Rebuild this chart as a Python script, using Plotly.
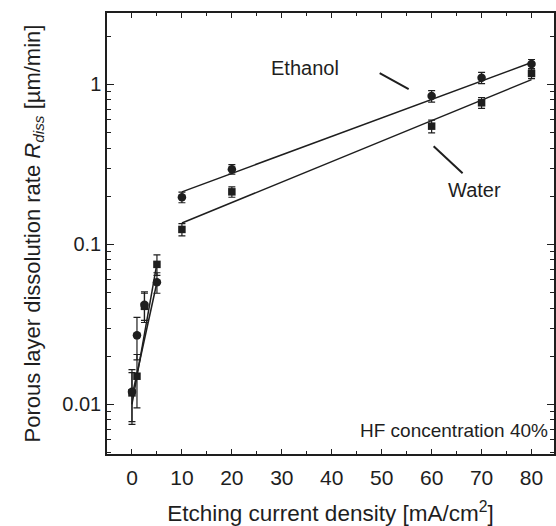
import plotly.graph_objects as go

# ---- data ----
current = [0, 1, 2.5, 5, 10, 20, 60, 70, 80]
ethanol_rate = [0.0120, 0.027, 0.042, 0.058, 0.197, 0.295, 0.845, 1.10, 1.34]
ethanol_err = [0.0045, 0.008, 0.0085, 0.0085, 0.015, 0.020, 0.070, 0.090, 0.090]
water_rate = [0.0118, 0.0150, 0.041, 0.075, 0.124, 0.213, 0.548, 0.767, 1.17]
water_err = [0.0040, 0.0055, 0.0085, 0.011, 0.011, 0.016, 0.050, 0.060, 0.085]

# fit lines
eth_fit_low_x = [0, 5]
eth_fit_low_y = [0.0112, 0.058]
wat_fit_low_x = [0, 5]
wat_fit_low_y = [0.0100, 0.076]
eth_fit_high_x = [10, 80]
eth_fit_high_y = [0.213, 1.37]
wat_fit_high_x = [10, 80]
wat_fit_high_y = [0.136, 1.07]

y_tickvals = [0.01, 0.1, 1]
y_ticktext = ["0.01", "0.1", "1"]
x_tickvals = [0, 10, 20, 30, 40, 50, 60, 70, 80]

INK = "#1e1e1e"
FONT = "Liberation Sans, Arial, sans-serif"

fig = go.Figure()

for fx, fy in [(eth_fit_low_x, eth_fit_low_y), (wat_fit_low_x, wat_fit_low_y),
               (eth_fit_high_x, eth_fit_high_y), (wat_fit_high_x, wat_fit_high_y)]:
    fig.add_trace(go.Scatter(x=fx, y=fy, mode="lines",
                             line=dict(color=INK, width=1.5), showlegend=False,
                             hoverinfo="skip"))

fig.add_trace(go.Scatter(
    x=current, y=water_rate, mode="markers", name="Water",
    marker=dict(symbol="square", size=7.5, color=INK),
    error_y=dict(type="data", array=water_err, color=INK, thickness=1.2, width=3.5),
    showlegend=False))
fig.add_trace(go.Scatter(
    x=current, y=ethanol_rate, mode="markers", name="Ethanol",
    marker=dict(symbol="circle", size=8.5, color=INK),
    error_y=dict(type="data", array=ethanol_err, color=INK, thickness=1.2, width=3.5),
    showlegend=False))

# annotation leader lines
fig.add_shape(type="line", x0=49.6, y0=10 ** 0.07, x1=55.4, y1=10 ** -0.03,
              line=dict(color=INK, width=2))
fig.add_shape(type="line", x0=60.4, y0=10 ** -0.387, x1=66.2, y1=10 ** -0.555,
              line=dict(color=INK, width=2))

# annotations on a log axis take log10 positions
fig.add_annotation(x=34.6, y=0.105, text="Ethanol", showarrow=False,
                   font=dict(size=20, color=INK, family=FONT))
fig.add_annotation(x=68.5, y=-0.66, text="Water", showarrow=False,
                   font=dict(size=20, color=INK, family=FONT))
fig.add_annotation(x=83.6, y=-2.165, text="HF concentration 40%", showarrow=False,
                   xanchor="right", font=dict(size=19, color=INK, family=FONT))

fig.update_layout(
    width=556, height=526,
    margin=dict(l=107, r=2, t=13, b=72),
    paper_bgcolor="white", plot_bgcolor="white",
    font=dict(family=FONT, color=INK, size=19),
    xaxis=dict(
        range=[-5, 84.5], tickvals=x_tickvals, ticks="inside", ticklen=5,
        tickwidth=1.2, tickcolor=INK, showline=True, linecolor=INK, linewidth=1.5,
        mirror="allticks", showgrid=False, zeroline=False, automargin=False,
        tickfont=dict(size=21), ticklabelstandoff=4,
        minor=dict(tickvals=[5, 15, 25, 35, 45, 55, 65, 75], ticks="inside",
                   ticklen=3, tickcolor=INK, tickwidth=1.2, showgrid=False),
        title=dict(text="Etching current density [mA/cm<sup>2</sup>]",
                   font=dict(size=22.5), standoff=26),
    ),
    yaxis=dict(
        type="log", range=[-2.31, 0.446], tickvals=y_tickvals, ticktext=y_ticktext,
        ticks="inside", ticklen=7, tickwidth=1.2, tickcolor=INK,
        showline=True, linecolor=INK, linewidth=1.5, mirror="allticks",
        showgrid=False, zeroline=False, tickfont=dict(size=20), automargin=False,
        minor=dict(tickvals=[m * d for d in (0.001, 0.01, 0.1, 1) for m in range(2, 10)],
                   ticks="inside", ticklen=4, tickcolor=INK, tickwidth=1.2,
                   showgrid=False),
        title=dict(text="Porous layer dissolution rate <i>R</i><sub><i>diss</i></sub> [µm/min]",
                   font=dict(size=22), standoff=16),
    ),
)

fig.write_html("out.html", config={"displayModeBar": False},
               post_script="document.body.style.margin='0';document.body.style.overflow='hidden';")
